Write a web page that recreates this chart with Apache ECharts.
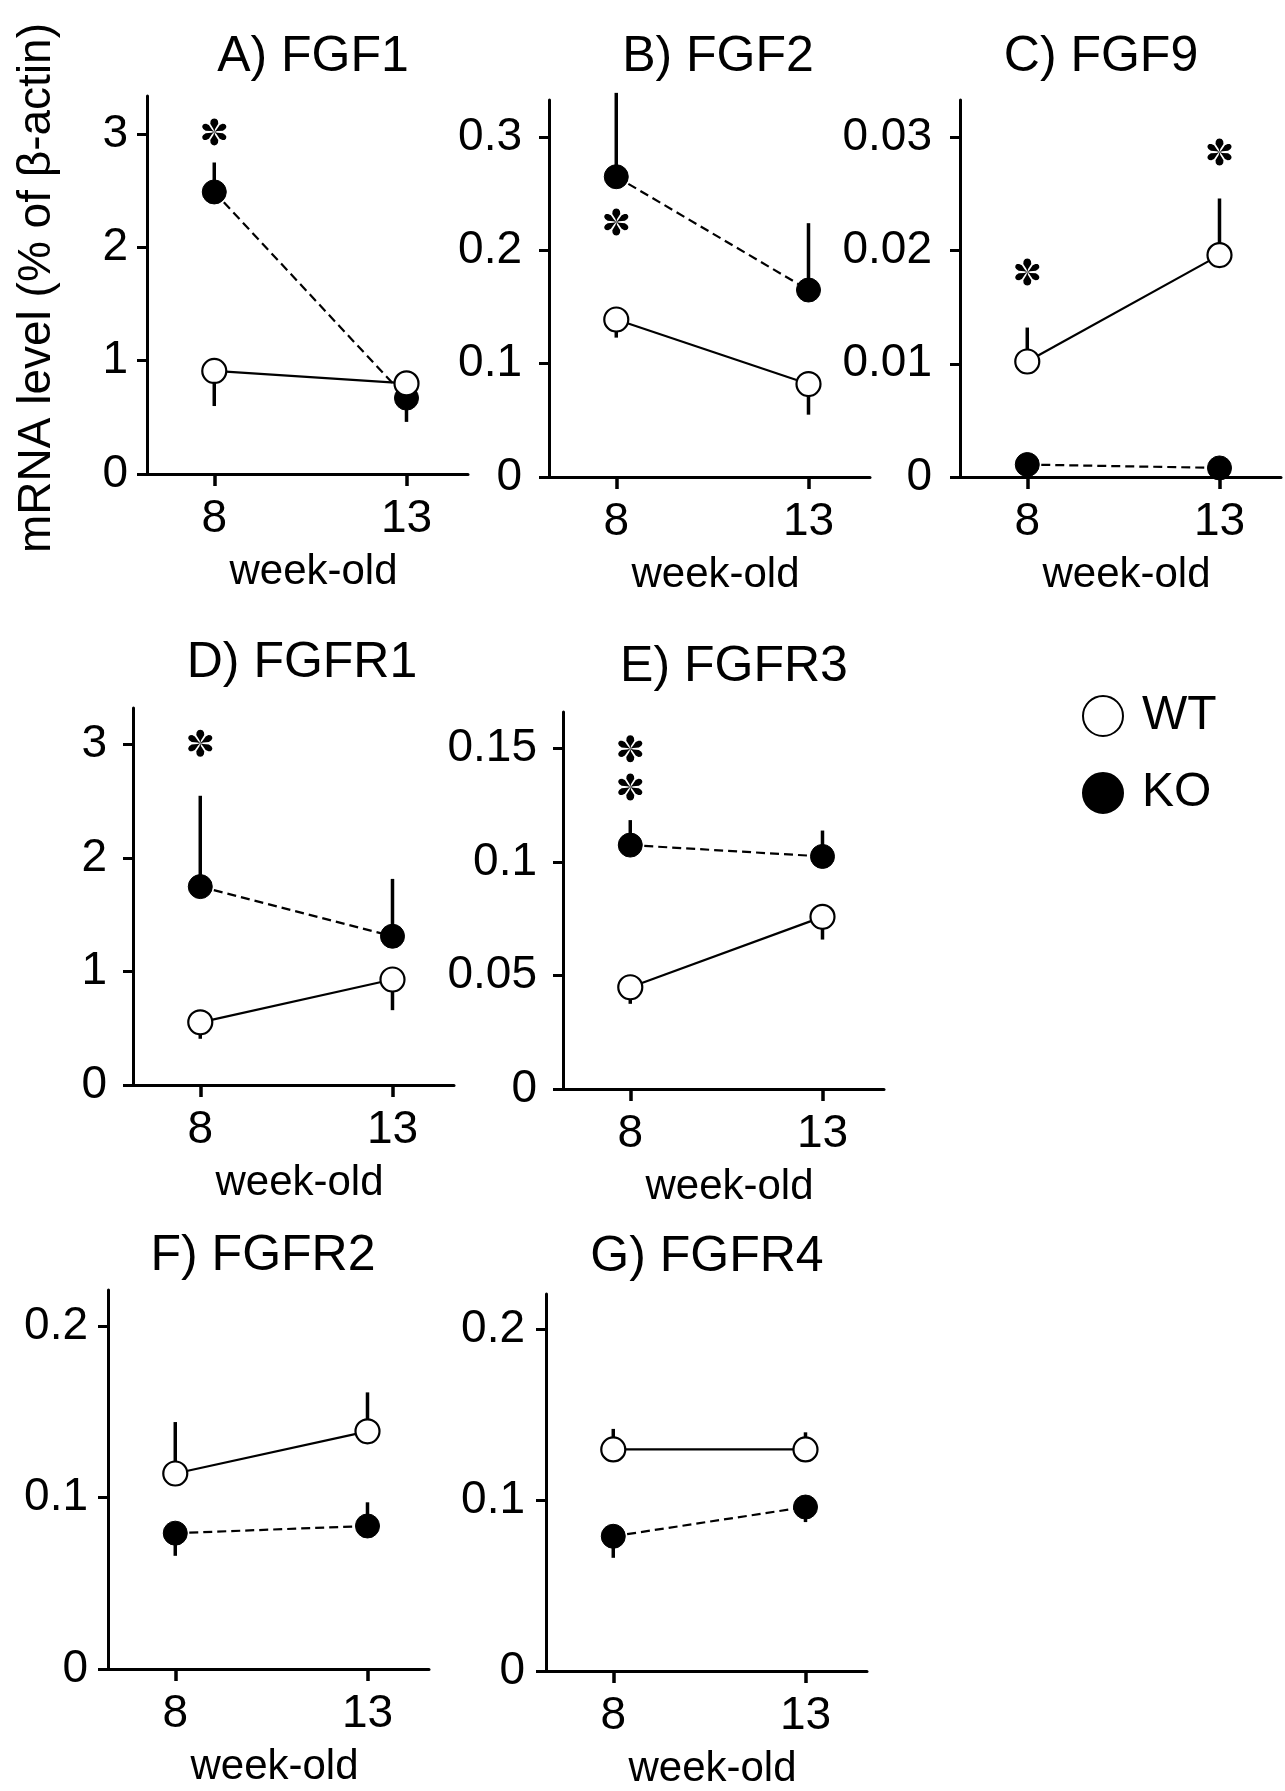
<!DOCTYPE html>
<html>
<head>
<meta charset="utf-8">
<script src="https://cdn.jsdelivr.net/npm/echarts@6/dist/echarts.min.js"></script>
<style>
  html, body { margin: 0; padding: 0; background: #fff; }
  #chart { width: 1285px; height: 1791px; }
</style>
</head>
<body>
<div id="chart"></div>
<script>
const weeks = [8, 13]
const titles = ['A) FGF1', 'B) FGF2', 'C) FGF9', 'D) FGFR1', 'E) FGFR3', 'F) FGFR2', 'G) FGFR4']

// mean at week 8, week 13
const wtMean = [[0.91, 0.80], [0.139, 0.082], [0.0102, 0.0196], [0.552, 0.929], [0.0448, 0.0758], [0.114, 0.1386], [0.1296, 0.1296]]
const koMean = [[2.49, 0.67], [0.265, 0.165], [0.0011, 0.0008], [1.747, 1.31], [0.1074, 0.1024], [0.0792, 0.0834], [0.0788, 0.0959]]
// one-sided error bars, negative = drawn downwards
const wtErr = [[-0.31, 0], [-0.016, -0.027], [0.003, 0.005], [-0.145, -0.27], [-0.0073, -0.010], [0.030, 0.0227], [0.012, 0.010]]
const koErr = [[0.26, -0.21], [0.074, 0.059], [0, 0], [0.80, 0.505], [0.011, 0.0114], [-0.0132, 0.0138], [-0.0126, -0.0088]]
// asterisks [week, height]
const stars = [[[8, 3.02]], [[8, 0.225]], [[8, 0.0181], [13, 0.0287]], [[8, 3.01]], [[8, 0.1498], [8, 0.133]], [], []]

const yTicks = [[0, 1, 2, 3], [0, 0.1, 0.2, 0.3], [0, 0.01, 0.02, 0.03], [0, 1, 2, 3], [0, 0.05, 0.1, 0.15], [0, 0.1, 0.2], [0, 0.1, 0.2]]
const yMax = [3.337, 0.3327, 0.0333, 3.32, 0.166, 0.221, 0.2205]

// panel boxes: left, top, height (width is the same for all)
const boxes = [[147, 96, 378], [549, 100, 377], [960, 100, 377], [133, 708, 377], [563, 712, 377], [108, 1290, 379], [546, 1294, 378]]
const labelGap = [19, 27, 28, 26, 26, 20, 21]
const titlePos = [[313, 57], [718, 57], [1101, 57], [302, 663], [734, 667], [263, 1256], [707, 1257]]

const FONT = '"Liberation Sans", Arial, sans-serif'
const black = '#000'

function errorBar(params, api) {
  const a = api.coord([api.value(0), api.value(1)])
  const b = api.coord([api.value(0), api.value(2)])
  return {
    type: 'line',
    shape: { x1: a[0], y1: a[1], x2: b[0], y2: b[1] },
    style: { stroke: black, lineWidth: 3.5 }
  }
}

// times-like asterisk: six teardrop arms, the vertical ones a bit fatter
function petal(angle, r, hw) {
  const pts = [[0, 0], [-0.8, -3], [-hw, -0.6 * r], [-hw * 0.92, -0.82 * r], [-hw * 0.55, -0.96 * r], [0, -r],
    [hw * 0.55, -0.96 * r], [hw * 0.92, -0.82 * r], [hw, -0.6 * r], [0.8, -3]]
  const c = Math.cos(angle), s = Math.sin(angle)
  return pts.map(p => [p[0] * c - p[1] * s, p[0] * s + p[1] * c])
}

function star(params, api) {
  const p = api.coord([api.value(0), api.value(1)])
  const children = []
  for (let k = 0; k < 6; k++) {
    const vertical = k === 0 || k === 3
    children.push({
      type: 'polygon',
      shape: { points: petal(k * Math.PI / 3, 13.5, vertical ? 4 : 3.2) },
      style: { fill: black }
    })
  }
  return { type: 'group', x: p[0], y: p[1], children: children }
}

const grid = [], xAxis = [], yAxis = [], series = []
const graphic = [{
  type: 'text', x: 37, y: 288, rotation: Math.PI / 2,
  style: { text: 'mRNA level (% of β-actin)', fontSize: 46, fontFamily: FONT, fill: black, align: 'center', verticalAlign: 'middle' }
}]

titles.forEach((t, i) => {
  const [left, top, height] = boxes[i]
  grid.push({ left: left, top: top, width: 321, height: height })
  xAxis.push({
    gridIndex: i, type: 'value', min: 6.25, max: 14.6,
    axisLine: { onZero: false, lineStyle: { color: black, width: 3 } },
    axisTick: { customValues: weeks, length: 12, lineStyle: { color: black, width: 3.5 } },
    axisLabel: { customValues: weeks, margin: 22, fontSize: 46, color: black, fontFamily: FONT },
    splitLine: { show: false },
    name: 'week-old', nameLocation: 'middle', nameGap: 77,
    nameTextStyle: { fontSize: 42, color: black, fontFamily: FONT, padding: [0, 0, 0, 12] }
  })
  yAxis.push({
    gridIndex: i, type: 'value', min: 0, max: yMax[i],
    axisLine: { show: true, onZero: false, lineStyle: { color: black, width: 3 } },
    axisTick: { show: true, customValues: yTicks[i], length: 10, lineStyle: { color: black, width: 3 } },
    axisLabel: { customValues: yTicks[i], margin: labelGap[i], fontSize: 46, color: black, fontFamily: FONT, formatter: v => String(v) },
    splitLine: { show: false }
  })
  graphic.push({
    type: 'text', x: titlePos[i][0], y: titlePos[i][1],
    style: { text: t, fontSize: 50, fontFamily: FONT, fill: black, align: 'center', verticalAlign: 'middle' }
  })

  series.push({
    type: 'custom', xAxisIndex: i, yAxisIndex: i, z: 1, renderItem: errorBar, silent: true,
    data: weeks.map((w, j) => [w, koMean[i][j], koMean[i][j] + koErr[i][j]])
  })
  series.push({
    type: 'custom', xAxisIndex: i, yAxisIndex: i, z: 1, renderItem: errorBar, silent: true,
    data: weeks.map((w, j) => [w, wtMean[i][j], wtMean[i][j] + wtErr[i][j]])
  })
  series.push({
    name: 'KO', type: 'line', xAxisIndex: i, yAxisIndex: i, z: 2,
    symbol: 'circle', symbolSize: 24,
    itemStyle: { color: black, borderColor: black, borderWidth: 1 },
    lineStyle: { color: black, width: 2.2, type: [9, 5] },
    data: weeks.map((w, j) => [w, koMean[i][j]])
  })
  series.push({
    name: 'WT', type: 'line', xAxisIndex: i, yAxisIndex: i, z: 3,
    symbol: 'circle', symbolSize: 24,
    itemStyle: { color: '#fff', borderColor: black, borderWidth: 2.2 },
    lineStyle: { color: black, width: 2.2 },
    data: weeks.map((w, j) => [w, wtMean[i][j]])
  })
  series.push({
    type: 'custom', xAxisIndex: i, yAxisIndex: i, z: 4, renderItem: star, silent: true,
    data: stars[i]
  })
})

const chart = echarts.init(document.getElementById('chart'))
chart.setOption({
  animation: false,
  backgroundColor: '#fff',
  grid: grid,
  xAxis: xAxis,
  yAxis: yAxis,
  series: series,
  graphic: graphic,
  legend: {
    data: ['WT', 'KO'], orient: 'vertical', left: 1082, top: 692, padding: 0,
    itemWidth: 40, itemHeight: 40, itemGap: 29, icon: 'circle', selectedMode: false,
    textStyle: { fontSize: 48, color: black, fontFamily: FONT, padding: [0, 0, 0, 14] }
  }
})
</script>
</body>
</html>
